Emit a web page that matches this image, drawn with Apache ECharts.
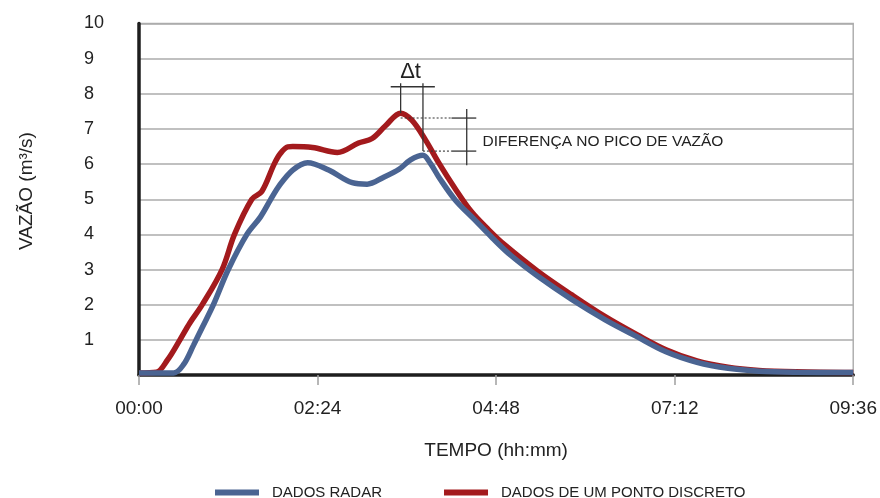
<!DOCTYPE html>
<html>
<head>
<meta charset="utf-8">
<script src="https://cdn.jsdelivr.net/npm/echarts@6/dist/echarts.min.js"></script>
<style>
  html, body { margin: 0; padding: 0; background: #fff; }
  #chart { width: 880px; height: 498px; }
</style>
</head>
<body>
<div id="chart"></div>
<script>
// Hidrogramas: vazão (m³/s) ao longo do tempo (minutos desde 00:00)
const seriesNames = ['DADOS RADAR', 'DADOS DE UM PONTO DISCRETO'];

const tempoRadar = [0, 28, 36, 44, 51, 60, 72, 87, 98, 106, 113, 124, 136, 153, 172, 184, 197, 210, 219, 229, 235, 242, 255, 270, 285, 300, 322, 349, 376, 400, 425, 450, 475, 500, 530, 576];
const vazaoRadar = [0.06, 0.06, 0.3, 0.85, 1.35, 2.0, 3.0, 4.0, 4.5, 4.98, 5.38, 5.83, 6.04, 5.83, 5.47, 5.43, 5.62, 5.86, 6.12, 6.25, 6.02, 5.62, 4.98, 4.44, 3.9, 3.4, 2.8, 2.15, 1.57, 1.12, 0.66, 0.36, 0.19, 0.11, 0.08, 0.07];

const tempoPonto = [0, 14, 23, 33, 41, 51, 67, 77, 91, 99, 109, 114, 120, 124, 140, 160, 177, 188, 199, 211, 220, 231, 242, 255, 268, 282, 295, 322, 349, 376, 402, 425, 450, 475, 500, 530, 576];
const vazaoPonto = [0.06, 0.08, 0.43, 1.0, 1.48, 2.0, 3.0, 4.0, 5.0, 5.22, 6.0, 6.3, 6.49, 6.5, 6.47, 6.33, 6.6, 6.73, 7.1, 7.45, 7.25, 6.69, 6.02, 5.3, 4.65, 4.13, 3.7, 2.94, 2.28, 1.66, 1.14, 0.72, 0.4, 0.22, 0.13, 0.09, 0.07];

// Eixo do tempo: 00:00 a 09:36, marcas a cada 02:24 (144 min)
const tempoMin = 0, tempoMax = 576, tempoPasso = 144;
const vazaoTicks = [1, 2, 3, 4, 5, 6, 7, 8, 9, 10];

// Anotações (em unidades de dados: minutos, m³/s)
const picoPonto = [211, 7.45];
const picoRadar = [229, 6.37];
const nivelDiferenca = [7.31, 6.37];

const FONT = 'Liberation Sans, Arial, Helvetica, sans-serif';
const toHHMM = v => {
  const h = Math.floor(v / 60), m = Math.round(v % 60);
  return String(h).padStart(2, '0') + ':' + String(m).padStart(2, '0');
};
const pairs = (ts, qs) => ts.map((t, i) => [t, qs[i]]);

const chart = echarts.init(document.getElementById('chart'), null, { renderer: 'canvas' });

chart.setOption({
  animation: false,
  backgroundColor: '#ffffff',
  textStyle: { fontFamily: FONT },
  grid: {
    left: 139, right: 24, top: 23.5, bottom: 123,
    show: true, borderColor: '#b0b0b0', borderWidth: 1.5
  },
  legend: {
    data: seriesNames,
    left: 210, top: 480,
    icon: 'rect', itemWidth: 44, itemHeight: 6, itemGap: 62,
    textStyle: { fontSize: 15, color: '#222', fontFamily: FONT, padding: [0, 0, 0, 8] }
  },
  xAxis: {
    type: 'value',
    min: tempoMin, max: tempoMax, interval: tempoPasso,
    name: 'TEMPO (hh:mm)', nameLocation: 'middle', nameGap: 66,
    nameTextStyle: { fontSize: 19, color: '#222', fontFamily: FONT },
    axisLine: { onZero: false, lineStyle: { color: '#1e1e1e', width: 3.5 } },
    axisTick: { show: true, length: 10, lineStyle: { color: '#a0a0a0', width: 1.5 } },
    axisLabel: { formatter: toHHMM, fontSize: 19, color: '#222', margin: 24, fontFamily: FONT },
    splitLine: { show: false }
  },
  yAxis: {
    type: 'value',
    min: 0, max: 10, interval: 1,
    axisLine: { show: true, lineStyle: { color: '#1e1e1e', width: 3.5 } },
    axisTick: { show: false },
    axisLabel: {
      formatter: v => (vazaoTicks.includes(v) ? String(v) : ''),
      fontSize: 18, color: '#222', align: 'left', margin: 55, fontFamily: FONT
    },
    splitLine: { show: true, lineStyle: { color: '#ababab', width: 1.5 } }
  },
  series: [
    {
      name: seriesNames[1], type: 'line', data: pairs(tempoPonto, vazaoPonto),
      smooth: 0.35, showSymbol: false, z: 2,
      lineStyle: { color: '#a31a1d', width: 5.5 }, itemStyle: { color: '#a31a1d' }
    },
    {
      name: seriesNames[0], type: 'line', data: pairs(tempoRadar, vazaoRadar),
      smooth: 0.35, showSymbol: false, z: 3,
      lineStyle: { color: '#4a6492', width: 5.5 }, itemStyle: { color: '#4a6492' }
    }
  ]
});

// Elementos de anotação: Δt entre os picos e diferença no pico de vazão
function drawAnnotations() {
  const P = (t, q) => chart.convertToPixel({ gridIndex: 0 }, [t, q]);
  const stroke = { stroke: '#333', lineWidth: 1.3 };
  const seg = (a, b, dashed) => ({
    type: 'line', z: 10,
    shape: { x1: a[0], y1: a[1], x2: b[0], y2: b[1] },
    style: Object.assign({}, stroke, dashed ? { lineDash: [2, 2], lineWidth: 1.1 } : {})
  });
  const topo = 8.3, barra = 8.2;
  const xDif = 252, xDifFim = 272, xChave = 264.3;
  const els = [
    seg(P(203, barra), P(238.6, barra)),
    seg(P(picoPonto[0], topo), P(picoPonto[0], picoPonto[1])),
    seg(P(picoRadar[0], topo), P(picoRadar[0], picoRadar[1])),
    seg(P(picoPonto[0], nivelDiferenca[0]), P(xDif, nivelDiferenca[0]), true),
    seg(P(picoRadar[0], nivelDiferenca[1]), P(xDif, nivelDiferenca[1]), true),
    seg(P(xDif, nivelDiferenca[0]), P(xDifFim, nivelDiferenca[0])),
    seg(P(xDif, nivelDiferenca[1]), P(xDifFim, nivelDiferenca[1])),
    seg(P(xChave, 7.57), P(xChave, 5.97))
  ];
  const pDelta = P(219, 8.62);
  els.push({
    type: 'text', z: 10, x: pDelta[0], y: pDelta[1],
    style: { text: 'Δt', fill: '#222', font: '22px ' + FONT, align: 'center', verticalAlign: 'middle' }
  });
  const pTexto = P(277, 6.63);
  els.push({
    type: 'text', z: 10, x: pTexto[0], y: pTexto[1],
    style: { text: 'DIFERENÇA NO PICO DE VAZÃO', fill: '#222', font: '15.5px ' + FONT, align: 'left', verticalAlign: 'middle' }
  });
  // Título do eixo vertical
  els.push({
    type: 'text', z: 10, x: 27, y: 191, rotation: Math.PI / 2,
    style: { text: 'VAZÃO (m³/s)', fill: '#222', font: '19px ' + FONT, align: 'center', verticalAlign: 'middle' }
  });
  chart.setOption({ graphic: { elements: els } });
}
drawAnnotations();
</script>
</body>
</html>
